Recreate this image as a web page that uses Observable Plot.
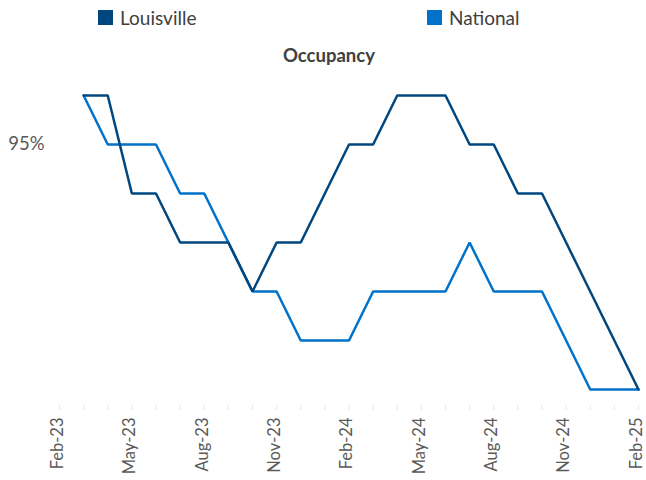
<!DOCTYPE html>
<html><head><meta charset="utf-8">
<script src="https://cdn.jsdelivr.net/npm/d3@7"></script>
<script src="https://cdn.jsdelivr.net/npm/@observablehq/plot@0.6"></script>
<style>
body{margin:0;background:#fff;font-family:Lato,sans-serif;}
#wrap{position:relative;width:646px;height:480px;overflow:hidden;}
.leg{position:absolute;top:6px;height:22px;font-size:19px;color:#404040;display:flex;align-items:center;white-space:nowrap;}
.sw{width:15px;height:15px;margin-right:7px;display:inline-block;}
#title{position:absolute;top:44px;left:12px;width:634px;text-align:center;font-weight:bold;font-size:18.5px;color:#404040;}
#chart{position:absolute;top:70px;left:0;}
</style></head>
<body>
<div id="wrap">
  <div class="leg" style="left:98px"><span class="sw" id="sw0"></span><span id="lab0"></span></div>
  <div class="leg" style="left:427px"><span class="sw" id="sw1"></span><span id="lab1"></span></div>
  <div id="title">Occupancy</div>
  <div id="chart"></div>
</div>
<script>
const seriesNames = ["Louisville", "National"];
const seriesColors = ["#00477f", "#0072c9"];
const axisMonths = ["Feb-23","Mar-23","Apr-23","May-23","Jun-23","Jul-23","Aug-23","Sep-23","Oct-23","Nov-23","Dec-23","Jan-24","Feb-24","Mar-24","Apr-24","May-24","Jun-24","Jul-24","Aug-24","Sep-24","Oct-24","Nov-24","Dec-24","Jan-25","Feb-25"];
const months = axisMonths.slice(1); // data Mar-23 .. Feb-25
const tickLabels = ["Feb-23","May-23","Aug-23","Nov-23","Feb-24","May-24","Aug-24","Nov-24","Feb-25"];
const louisville = [95.5,95.5,94.5,94.5,94,94,94,93.5,94,94,94.5,95,95,95.5,95.5,95.5,95,95,94.5,94.5,94,93.5,93,92.5];
const national   = [95.5,95,95,95,94.5,94.5,94,93.5,93.5,93,93,93,93.5,93.5,93.5,93.5,94,93.5,93.5,93.5,93,92.5,92.5,92.5];
const yTicks = [95];

const rows = [];
[louisville, national].forEach((vals, s) => {
  vals.forEach((v, i) => rows.push({series: seriesNames[s], x: axisMonths.indexOf(months[i]), y: v}));
});

seriesNames.forEach((n, i) => {
  document.getElementById("lab" + i).textContent = n;
  document.getElementById("sw" + i).style.background = seriesColors[i];
});

const font = "Lato, sans-serif";
const chart = Plot.plot({
  width: 646,
  height: 410,
  marginLeft: 59,
  marginRight: 8,
  marginTop: 20,
  marginBottom: 75,
  style: {fontFamily: font, background: "#fff"},
  x: {domain: [0, axisMonths.length - 1]},
  y: {domain: [92.337, 95.551]},
  color: {domain: seriesNames, range: seriesColors},
  marks: [
    Plot.axisY({ticks: yTicks, tickSize: 0, tickPadding: 15, tickFormat: d => d + "%", fontSize: 18.5, color: "#595959", label: null}),
    Plot.axisX({ticks: d3.range(0, axisMonths.length), tickSize: 5, text: null, stroke: "#e6e6e6", label: null}),
    Plot.axisX({ticks: tickLabels.map(t => axisMonths.indexOf(t)), tickFormat: d => axisMonths[d], tickSize: 0, tickPadding: 12, tickRotate: -90, dx: -2, fontSize: 16.5, color: "#595959", label: null}),
    Plot.line(rows.filter(r => r.series === "National"), {x: "x", y: "y", stroke: "series", strokeWidth: 2.5, strokeLinejoin: "miter"}),
    Plot.line(rows.filter(r => r.series === "Louisville"), {x: "x", y: "y", stroke: "series", strokeWidth: 2.5, strokeLinejoin: "miter"})
  ]
});
document.getElementById("chart").appendChild(chart);
</script>
</body></html>
